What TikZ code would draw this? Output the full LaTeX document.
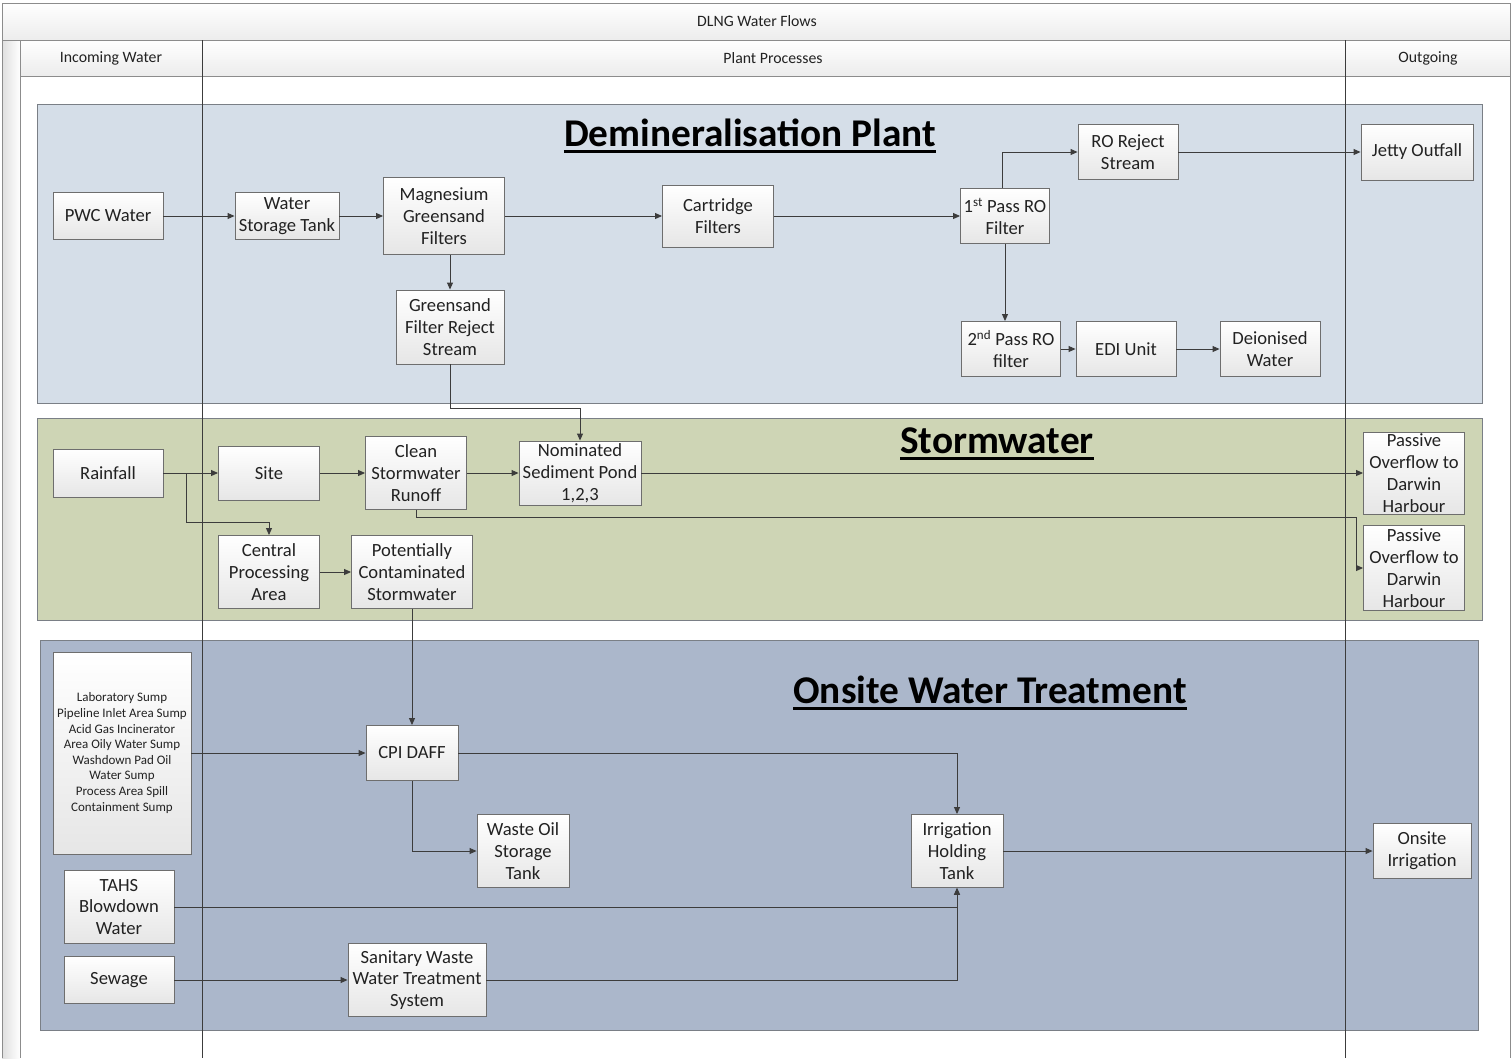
\documentclass[tikz,border=0pt]{standalone}
\usepackage{fontspec}
\setmainfont{Carlito}
\usetikzlibrary{arrows.meta,calc}
\definecolor{demin}{HTML}{D5DEE8}
\definecolor{storm}{HTML}{CED5B5}
\definecolor{onsite}{HTML}{ABB7CB}
\definecolor{bandline}{HTML}{7A7F86}
\definecolor{boxline}{HTML}{6E6E6E}
\definecolor{boxbot}{HTML}{E6E6E6}
\definecolor{wire}{HTML}{3C3C3C}
\definecolor{txt}{HTML}{222222}
\definecolor{frame}{HTML}{8C8C8C}
\definecolor{hdrbot}{HTML}{ECECEC}
\tikzset{
  box/.style={draw=boxline, line width=0.9pt, top color=white, bottom color=boxbot, align=center,
    font=\fontsize{18.6}{21.8}\selectfont, text=txt, inner sep=0pt},
  arr/.style={draw=wire, line width=0.9pt, -{Triangle[length=7pt,width=6pt]}},
  wireline/.style={draw=wire, line width=0.9pt},
  band/.style={draw=bandline, line width=0.9pt},
  bandtitle/.style={font=\fontsize{39.3}{46}\selectfont\bfseries, text=black, inner sep=0pt, anchor=base},
  ul/.style={line width=2.8pt, black},
  hdr/.style={font=\fontsize{15.8}{18}\selectfont, text=txt, inner sep=0pt}
}
\begin{document}
\begin{tikzpicture}[x=1pt,y=-1pt]
\useasboundingbox (0,0) rectangle (1512,1058);
\fill[white] (0,0) rectangle (1512,1058);
% frame and headers
\shade[top color=white, bottom color=hdrbot] (2,3) rectangle (1510,40);
\shade[top color=white, bottom color=hdrbot] (20,40) rectangle (1510,76);
\shade[left color=gray!25, right color=white] (2,40) rectangle (20,1058);
\draw[frame, line width=0.9pt] (2,1058) -- (2,3) -- (1510,3) -- (1510,1058);
\draw[frame, line width=0.9pt] (2,40) -- (1510,40);
\draw[frame, line width=0.9pt] (20,76) -- (1510,76);
\draw[frame, line width=0.9pt] (20,40) -- (20,1058);
\node[hdr] (ttl) at (757,21) {DLNG Water Flows};
\node[hdr] (h1) at (111,58) {Incoming Water};
\node[hdr] (h2) at (773,58) {Plant Processes};
\node[hdr] (h3) at (1428,58) {Outgoing};
% bands
\fill[demin] (37,104) rectangle (1482,403);
\draw[band] (37,104) rectangle (1482,403);
\fill[storm] (37,418) rectangle (1482,620);
\draw[band] (37,418) rectangle (1482,620);
\fill[onsite] (40,640) rectangle (1478,1030);
\draw[band] (40,640) rectangle (1478,1030);
% lane dividers
\draw[wire, line width=0.9pt] (202,40) -- (202,1058);
\draw[wire, line width=0.9pt] (1345,40) -- (1345,1058);
% band titles
\node[bandtitle] (t1) at (750,146) {Demineralisation Plant};
\draw[ul] ($(t1.base west)+(0,5.5)$) -- ($(t1.base east)+(0,5.5)$);
\node[bandtitle] (t2) at (997,453) {Stormwater};
\draw[ul] ($(t2.base west)+(0,5.5)$) -- ($(t2.base east)+(0,5.5)$);
\node[bandtitle] (t3) at (990,703) {Onsite Water Treatment};
\draw[ul] ($(t3.base west)+(0,5.5)$) -- ($(t3.base east)+(0,5.5)$);
% demineralisation nodes
\node[box, minimum width=110pt, minimum height=47pt] (pwc) at (108,216) {PWC Water};
\node[box, minimum width=104pt, minimum height=47pt] (wst) at (287,216) {Water\\Storage Tank};
\node[box, minimum width=121pt, minimum height=77pt] (mgf) at (444,216) {Magnesium\\Greensand\\Filters};
\node[box, minimum width=108pt, minimum height=74pt] (gfrs) at (450,327) {Greensand\\Filter Reject\\Stream};
\node[box, minimum width=111pt, minimum height=62pt] (cart) at (718,216) {Cartridge\\Filters};
\node[box, minimum width=89pt, minimum height=55pt] (ro1) at (1005,216) {1\textsuperscript{st} Pass RO\\Filter};
\node[box, minimum width=100pt, minimum height=55pt] (rorej) at (1128,152) {RO Reject\\Stream};
\node[box, minimum width=112pt, minimum height=56pt] (jetty) at (1417,152) {Jetty Outfall};
\node[box, minimum width=99pt, minimum height=55pt] (ro2) at (1011,349) {2\textsuperscript{nd} Pass RO\\filter};
\node[box, minimum width=100pt, minimum height=55pt] (edi) at (1126,349) {EDI Unit};
\node[box, minimum width=100pt, minimum height=55pt] (deion) at (1270,349) {Deionised\\Water};
% stormwater nodes
\node[box, minimum width=110pt, minimum height=48pt] (rain) at (108,473) {Rainfall};
\node[box, minimum width=101pt, minimum height=54pt] (site) at (269,473) {Site};
\node[box, minimum width=101pt, minimum height=73pt] (clean) at (416,473) {Clean\\Stormwater\\Runoff};
\node[box, minimum width=122pt, minimum height=64pt] (pond) at (580,473) {Nominated\\Sediment Pond\\1,2,3};
\node[box, minimum width=101pt, minimum height=82pt] (pass1) at (1414,473) {Passive\\Overflow to\\Darwin\\Harbour};
\node[box, minimum width=101pt, minimum height=85pt] (pass2) at (1414,568) {Passive\\Overflow to\\Darwin\\Harbour};
\node[box, minimum width=101pt, minimum height=73pt] (cpa) at (269,572) {Central\\Processing\\Area};
\node[box, minimum width=121pt, minimum height=73pt] (pcs) at (412,572) {Potentially\\Contaminated\\Stormwater};
% onsite nodes
\node[box, minimum width=138pt, minimum height=202pt, font=\fontsize{13}{15.6}\selectfont] (lab) at (122,753) {Laboratory Sump\\Pipeline Inlet Area Sump\\Acid Gas Incinerator\\Area Oily Water Sump\\Washdown Pad Oil\\Water Sump\\Process Area Spill\\Containment Sump};
\node[box, minimum width=92pt, minimum height=55pt] (cpi) at (412,753) {CPI DAFF};
\node[box, minimum width=92pt, minimum height=73pt] (woil) at (523,851) {Waste Oil\\Storage\\Tank};
\node[box, minimum width=92pt, minimum height=73pt] (irr) at (957,851) {Irrigation\\Holding\\Tank};
\node[box, minimum width=98pt, minimum height=55pt] (onirr) at (1422,851) {Onsite\\Irrigation};
\node[box, minimum width=110pt, minimum height=73pt] (tahs) at (119,907) {TAHS\\Blowdown\\Water};
\node[box, minimum width=110pt, minimum height=47pt] (sew) at (119,980) {Sewage};
\node[box, minimum width=138pt, minimum height=73pt] (swts) at (417,980) {Sanitary Waste\\Water Treatment\\System};
% demineralisation connectors
\draw[arr] (pwc) -- (wst);
\draw[arr] (wst) -- (mgf);
\draw[arr] (mgf) -- (cart);
\draw[arr] (gfrs.north |- mgf.south) -- (gfrs.north);
\draw[arr] (cart) -- (ro1);
\draw[arr] ($(ro1.north)+(-3,0)$) |- (rorej.west);
\draw[arr] (rorej) -- (jetty);
\draw[arr] (ro1.south) -- (ro1.south |- ro2.north);
\draw[arr] (ro2) -- (edi);
\draw[arr] (edi) -- (deion);
\draw[arr] (gfrs.south) -- ++(0,44) -| (pond.north);
% stormwater connectors
\coordinate (br) at (186,473);
\draw[arr] (rain) -- (site);
\draw[arr] (br) -- ++(0,49) -| (cpa.north);
\draw[arr] (site) -- (clean);
\draw[arr] (clean) -- (pond);
\draw[arr] (pond) -- (pass1);
\coordinate (p2in) at ($(pass2.west)+(-7,0)$);
\draw[arr] (clean.south) -- ++(0,7) -| (p2in) -- (pass2.west);
\draw[arr] (cpa) -- (pcs);
\draw[arr] (pcs.south) -- (cpi.north);
% onsite connectors
\draw[arr] (lab.east |- cpi) -- (cpi.west);
\draw[arr] (cpi.east) -| (irr.north);
\draw[arr] (cpi.south) |- (woil.west);
\draw[arr] (irr) -- (onirr);
\draw[arr] (tahs.east) -| (irr.south);
\draw[arr] (sew) -- (swts);
\draw[arr] (swts.east) -| (irr.south);
\end{tikzpicture}
\end{document}
